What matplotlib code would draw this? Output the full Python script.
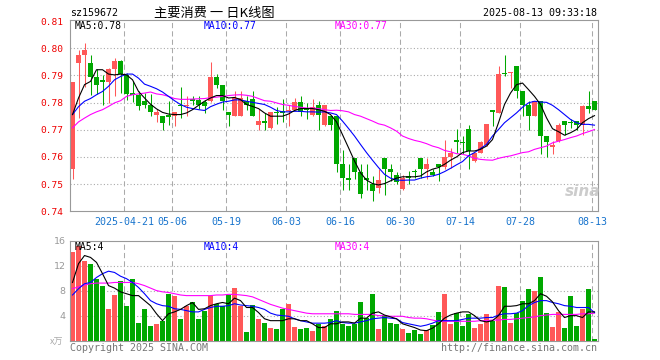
import matplotlib
matplotlib.use("Agg")
import matplotlib.pyplot as plt
import numpy as np

# daily bars, 2025-04-08 .. 2025-08-13 (88 trading days)
opens = [0.7555, 0.7946, 0.7977, 0.7946, 0.7895, 0.7884, 0.7874, 0.7924, 0.7954, 0.7902,
         0.7835, 0.7829, 0.7805, 0.7793, 0.7754, 0.7752, 0.7754, 0.7752, 0.7793, 0.7786,
         0.7812, 0.7811, 0.7802, 0.7805, 0.7895, 0.7866, 0.7764, 0.7752, 0.7752, 0.7805,
         0.7813, 0.7717, 0.7734, 0.7705, 0.7764, 0.7769, 0.7769, 0.7773, 0.7803, 0.7780,
         0.7754, 0.7793, 0.7716, 0.7752, 0.7750, 0.7573, 0.7522, 0.7597, 0.7545, 0.7522,
         0.7500, 0.7484, 0.7595, 0.7555, 0.7534, 0.7481, 0.7530, 0.7546, 0.7595, 0.7555,
         0.7545, 0.7573, 0.7563, 0.7601, 0.7662, 0.7653, 0.7703, 0.7585, 0.7616, 0.7644,
         0.7774, 0.7762, 0.7906, 0.7908, 0.7935, 0.7844, 0.7793, 0.7752, 0.7805, 0.7677,
         0.7636, 0.7658, 0.7734, 0.7727, 0.7734, 0.7717, 0.7786, 0.7805]
closes = [0.7874, 0.7976, 0.7994, 0.7896, 0.7866, 0.7874, 0.7924, 0.7954, 0.7905, 0.7833,
          0.7829, 0.7786, 0.7793, 0.7765, 0.7764, 0.7725, 0.7748, 0.7764, 0.7786, 0.7793,
          0.7805, 0.7793, 0.7788, 0.7895, 0.7866, 0.7805, 0.7754, 0.7817, 0.7817, 0.7793,
          0.7752, 0.7734, 0.7724, 0.7764, 0.7760, 0.7762, 0.7774, 0.7803, 0.7766, 0.7774,
          0.7785, 0.7754, 0.7793, 0.7717, 0.7573, 0.7522, 0.7514, 0.7545, 0.7463, 0.7514,
          0.7476, 0.7516, 0.7555, 0.7545, 0.7506, 0.7524, 0.7522, 0.7544, 0.7555, 0.7573,
          0.7534, 0.7563, 0.7601, 0.7616, 0.7655, 0.7651, 0.7622, 0.7613, 0.7655, 0.7723,
          0.7764, 0.7905, 0.7904, 0.7913, 0.7844, 0.7793, 0.7752, 0.7805, 0.7677, 0.7655,
          0.7643, 0.7717, 0.7717, 0.7724, 0.7717, 0.7786, 0.7778, 0.7774]
highs = [0.7875, 0.7994, 0.8018, 0.7976, 0.7923, 0.7902, 0.7927, 0.7963, 0.7955, 0.7908,
         0.7878, 0.7841, 0.7835, 0.7832, 0.7778, 0.7752, 0.7805, 0.7764, 0.7856, 0.7823,
         0.7825, 0.7825, 0.7811, 0.7948, 0.7905, 0.7866, 0.7764, 0.7844, 0.7844, 0.7825,
         0.7844, 0.7778, 0.7762, 0.7764, 0.7784, 0.7813, 0.7793, 0.7817, 0.7825, 0.7799,
         0.7813, 0.7805, 0.7793, 0.7752, 0.7750, 0.7624, 0.7573, 0.7597, 0.7573, 0.7573,
         0.7530, 0.7555, 0.7595, 0.7573, 0.7545, 0.7534, 0.7549, 0.7555, 0.7595, 0.7595,
         0.7555, 0.7573, 0.7662, 0.7634, 0.7703, 0.7677, 0.7717, 0.7613, 0.7658, 0.7723,
         0.7774, 0.7935, 0.7976, 0.7913, 0.7935, 0.7844, 0.7805, 0.7805, 0.7805, 0.7677,
         0.7658, 0.7725, 0.7734, 0.7738, 0.7734, 0.7793, 0.7844, 0.7805]
lows = [0.7518, 0.7743, 0.7859, 0.7829, 0.7832, 0.7790, 0.7799, 0.7823, 0.7835, 0.7811,
        0.7802, 0.7771, 0.7780, 0.7750, 0.7729, 0.7701, 0.7719, 0.7713, 0.7744, 0.7750,
        0.7790, 0.7778, 0.7761, 0.7804, 0.7853, 0.7771, 0.7713, 0.7750, 0.7750, 0.7774,
        0.7750, 0.7701, 0.7701, 0.7704, 0.7722, 0.7729, 0.7713, 0.7773, 0.7750, 0.7741,
        0.7752, 0.7701, 0.7713, 0.7701, 0.7543, 0.7479, 0.7479, 0.7518, 0.7449, 0.7479,
        0.7439, 0.7469, 0.7460, 0.7512, 0.7500, 0.7479, 0.7500, 0.7524, 0.7524, 0.7518,
        0.7530, 0.7512, 0.7555, 0.7561, 0.7613, 0.7612, 0.7555, 0.7581, 0.7613, 0.7640,
        0.7713, 0.7762, 0.7899, 0.7853, 0.7817, 0.7750, 0.7701, 0.7750, 0.7610, 0.7600,
        0.7610, 0.7655, 0.7682, 0.7707, 0.7701, 0.7682, 0.7761, 0.7774]

ma5 = [0.7756, 0.7817, 0.7866, 0.7878, 0.7921, 0.7921, 0.7905, 0.7902, 0.7905, 0.7902,
       0.7884, 0.7841, 0.7817, 0.7794, 0.7777, 0.7764, 0.7758, 0.7756, 0.7756, 0.7762,
       0.7774, 0.7790, 0.7805, 0.7817, 0.7826, 0.7826, 0.7817, 0.7819, 0.7811, 0.7793,
       0.7786, 0.7778, 0.7762, 0.7750, 0.7750, 0.7750, 0.7758, 0.7771, 0.7778, 0.7778,
       0.7778, 0.7774, 0.7768, 0.7756, 0.7729, 0.7682, 0.7634, 0.7585, 0.7542, 0.7515,
       0.7502, 0.7497, 0.7502, 0.7512, 0.7522, 0.7527, 0.7527, 0.7527, 0.7530, 0.7545,
       0.7555, 0.7561, 0.7573, 0.7588, 0.7600, 0.7616, 0.7622, 0.7622, 0.7628, 0.7640,
       0.7664, 0.7726, 0.7793, 0.7835, 0.7866, 0.7872, 0.7848, 0.7823, 0.7793, 0.7744,
       0.7704, 0.7693, 0.7680, 0.7689, 0.7701, 0.7726, 0.7741, 0.7752]
ma10 = [0.7756, 0.7785, 0.7805, 0.7815, 0.7829, 0.7841, 0.7860, 0.7884, 0.7896, 0.7905,
        0.7905, 0.7890, 0.7868, 0.7860, 0.7851, 0.7839, 0.7823, 0.7807, 0.7793, 0.7783,
        0.7778, 0.7774, 0.7771, 0.7785, 0.7794, 0.7802, 0.7805, 0.7810, 0.7810, 0.7805,
        0.7801, 0.7797, 0.7793, 0.7783, 0.7771, 0.7766, 0.7766, 0.7768, 0.7768, 0.7766,
        0.7766, 0.7765, 0.7766, 0.7762, 0.7756, 0.7732, 0.7705, 0.7677, 0.7646, 0.7616,
        0.7588, 0.7561, 0.7536, 0.7522, 0.7515, 0.7514, 0.7515, 0.7515, 0.7522, 0.7527,
        0.7530, 0.7536, 0.7546, 0.7558, 0.7571, 0.7583, 0.7604, 0.7616, 0.7631, 0.7646,
        0.7677, 0.7701, 0.7726, 0.7744, 0.7762, 0.7783, 0.7799, 0.7805, 0.7802, 0.7801,
        0.7790, 0.7774, 0.7756, 0.7738, 0.7726, 0.7720, 0.7720, 0.7717]
ma30 = [0.7707, 0.7729, 0.7743, 0.7756, 0.7766, 0.7774, 0.7786, 0.7799, 0.7807, 0.7823,
        0.7829, 0.7832, 0.7835, 0.7839, 0.7832, 0.7829, 0.7823, 0.7815, 0.7812, 0.7812,
        0.7813, 0.7814, 0.7815, 0.7818, 0.7820, 0.7823, 0.7826, 0.7828, 0.7829, 0.7827,
        0.7823, 0.7815, 0.7807, 0.7805, 0.7799, 0.7793, 0.7790, 0.7786, 0.7783, 0.7780,
        0.7780, 0.7778, 0.7774, 0.7771, 0.7772, 0.7770, 0.7766, 0.7756, 0.7750, 0.7741,
        0.7732, 0.7722, 0.7717, 0.7707, 0.7695, 0.7677, 0.7668, 0.7661, 0.7656, 0.7649,
        0.7640, 0.7634, 0.7624, 0.7619, 0.7612, 0.7610, 0.7604, 0.7595, 0.7591, 0.7589,
        0.7588, 0.7595, 0.7600, 0.7604, 0.7610, 0.7616, 0.7619, 0.7628, 0.7634, 0.7640,
        0.7652, 0.7658, 0.7664, 0.7671, 0.7677, 0.7686, 0.7693, 0.7701]

# volume, in 万
volume = [14.1, 15.2, 12.7, 12.3, 9.8, 8.8, 5.0, 7.3, 9.6, 5.6,
          9.9, 2.9, 5.0, 2.4, 2.7, 3.2, 7.4, 7.2, 3.4, 5.6,
          6.1, 3.5, 4.7, 7.2, 5.9, 5.5, 7.3, 8.4, 5.5, 1.4,
          5.7, 3.5, 2.8, 2.0, 1.9, 5.0, 5.8, 2.2, 1.9, 2.1,
          1.5, 2.7, 2.4, 3.5, 4.8, 2.6, 2.4, 2.6, 6.1, 3.6,
          7.5, 1.9, 4.1, 2.9, 2.6, 1.9, 1.3, 1.7, 1.0, 1.7,
          2.5, 4.6, 7.5, 2.6, 4.5, 2.3, 4.3, 2.1, 2.7, 4.2,
          3.2, 8.8, 8.5, 2.9, 4.5, 6.4, 8.2, 8.0, 10.1, 4.5,
          2.2, 4.6, 2.1, 7.2, 2.4, 5.0, 8.3, 0.3]
vol_ma5 = [9.3, 12.3, 13.6, 13.3, 12.5, 10.7, 8.8, 8.4, 7.8, 7.5,
           7.2, 7.2, 6.4, 5.6, 4.3, 3.2, 4.3, 4.6, 5.0, 5.6,
           6.1, 5.0, 5.1, 5.6, 5.9, 6.1, 5.9, 6.8, 6.4, 5.3,
           5.3, 4.5, 3.5, 3.2, 3.2, 3.2, 3.5, 3.5, 3.2, 3.2,
           2.7, 2.1, 2.1, 2.7, 2.7, 3.0, 3.0, 2.8, 3.6, 3.6,
           4.4, 4.6, 4.1, 3.8, 3.5, 2.7, 2.4, 2.1, 1.7, 1.6,
           2.0, 2.7, 3.6, 4.1, 4.4, 4.6, 4.6, 4.0, 3.2, 3.0,
           3.2, 4.0, 5.5, 5.5, 5.6, 5.9, 5.9, 6.4, 7.5, 7.1,
           6.2, 4.8, 3.7, 4.0, 4.0, 3.7, 4.6, 4.6]
vol_ma10 = [7.3, 8.3, 9.1, 9.3, 10.1, 10.7, 11.1, 10.9, 10.3, 9.9,
            9.3, 8.5, 7.5, 6.4, 5.9, 5.6, 5.5, 5.1, 5.0, 4.8,
            4.6, 4.6, 5.0, 5.3, 5.5, 5.5, 5.6, 5.9, 5.7, 5.6,
            5.5, 5.3, 5.0, 4.4, 4.1, 4.0, 3.9, 3.5, 3.2, 3.0,
            2.8, 2.8, 2.8, 2.9, 3.2, 2.9, 2.8, 2.8, 3.0, 3.2,
            3.5, 3.6, 3.7, 3.6, 3.5, 2.9, 2.7, 2.5, 2.3, 2.5,
            2.8, 3.2, 3.2, 3.2, 3.2, 3.4, 3.6, 3.6, 3.6, 3.7,
            3.7, 4.1, 4.3, 4.3, 4.4, 4.8, 5.6, 6.1, 6.4, 6.4,
            6.1, 5.9, 5.6, 5.5, 5.3, 5.3, 5.3, 4.5]
vol_ma30 = [8.3, 8.6, 8.9, 9.1, 9.2, 9.2, 9.2, 9.3, 9.3, 9.3,
            9.3, 9.1, 8.8, 8.4, 8.0, 7.8, 7.7, 7.5, 7.3, 7.2,
            7.2, 7.2, 7.2, 7.2, 7.3, 7.3, 7.4, 7.4, 7.3, 7.2,
            7.0, 6.6, 6.2, 5.8, 5.5, 5.2, 5.0, 4.8, 4.6, 4.4,
            4.3, 4.3, 4.3, 4.3, 4.3, 4.3, 4.3, 4.2, 4.2, 4.2,
            4.2, 4.0, 4.0, 3.9, 3.9, 3.9, 3.7, 3.6, 3.6, 3.5,
            3.3, 3.1, 3.1, 3.1, 3.1, 3.1, 3.1, 3.1, 3.2, 3.2,
            3.3, 3.3, 3.4, 3.4, 3.5, 3.6, 3.7, 3.8, 4.0, 4.1,
            4.2, 4.2, 4.2, 4.2, 4.2, 4.3, 4.3, 4.4]

date_idx = [9, 17, 26, 36, 45, 55, 65, 75, 87]
date_labels = ["2025-04-21", "05-06", "05-19", "06-03", "06-16", "06-30", "07-14", "07-28", "08-13"]
price_ticks = [0.74, 0.75, 0.76, 0.77, 0.78, 0.79, 0.80, 0.81]
vol_ticks = [4, 8, 12, 16]

RED = "#ff5858"
GREEN = "#00a800"
GRID = "#aaaaaa"
MONO = "DejaVu Sans Mono"
CJK = ["Noto Sans CJK SC", "DejaVu Sans"]

W, H = 660, 360
fig = plt.figure(figsize=(W / 100, H / 100), dpi=100)


def fx(x):
    return x / W


def fy(y):
    return 1 - y / H


L, R = 70, 597.5
ax = fig.add_axes([fx(L), fy(211.3), (R - L) / W, (211.3 - 20) / H])
axv = fig.add_axes([fx(L), fy(340.7), (R - L) / W, (340.7 - 240.5) / H])

x = np.arange(len(closes))
o = np.array(opens)
c = np.array(closes)
colors = np.where(c >= o, RED, GREEN)

# price panel
ax.vlines(x, lows, highs, colors=colors, lw=0.75)
ax.bar(x, np.maximum(np.abs(c - o), 0.00035), 0.82, bottom=np.minimum(o, c),
       color=colors, linewidth=0)
ax.plot(x, ma30, color="#ff00ff", lw=0.8)
ax.plot(x, ma10, color="#0000ff", lw=0.8)
ax.plot(x, ma5, color="black", lw=0.8)

# volume panel
axv.bar(x, volume, 0.82, color=colors, linewidth=0)
axv.plot(x, vol_ma30, color="#ff00ff", lw=0.8)
axv.plot(x, vol_ma10, color="#0000ff", lw=0.8)
axv.plot(x, vol_ma5, color="black", lw=0.8)

for a in (ax, axv):
    a.set_xlim(-0.42, 87.5)
    for d in date_idx:
        a.axvline(d - 0.35, color=GRID, lw=0.75, ls=(0, (5, 3)), zorder=0)
    for s in a.spines.values():
        s.set_color("#999999")
        s.set_linewidth(0.8)
    a.tick_params(length=0)

ax.set_ylim(0.74, 0.8104)
for t in price_ticks[1:-1]:
    ax.axhline(t, color=GRID, lw=0.8, ls=(0, (1, 2)), zorder=0)
ax.set_yticks(price_ticks)
ax.set_yticklabels([f"{t:.2f}" for t in price_ticks], color="#ee0000",
                   family=MONO, fontsize=6.8)
ax.tick_params(axis="y", pad=5)
ax.set_xticks([d - 0.35 for d in date_idx])
ax.set_xticklabels(date_labels, color="#1874cd", family=MONO, fontsize=7.2)
ax.tick_params(axis="x", pad=4)

axv.set_ylim(0, 16)
for t in vol_ticks[:-1]:
    axv.axhline(t, color=GRID, lw=0.8, ls=(0, (1, 2)), zorder=0)
axv.set_yticks(vol_ticks)
axv.set_yticklabels([str(t) for t in vol_ticks], color="#999999", fontsize=6.8)
axv.tick_params(axis="y", pad=3)
axv.set_xticks([])

# texts
fig.text(fx(70), fy(13), "sz159672", family=MONO, fontsize=7.2, va="center")
fig.text(fx(214), fy(13), "主要消费 一 日K线图", family=CJK, fontsize=9.5,
         va="center", ha="center")
fig.text(fx(597), fy(13), "2025-08-13 09:33:18", family=MONO, fontsize=7.2,
         va="center", ha="right")

fig.text(fx(75), fy(26), "MA5:0.78", family=MONO, fontsize=7, color="black", va="center")
fig.text(fx(204), fy(26), "MA10:0.77", family=MONO, fontsize=7, color="#0000ff", va="center")
fig.text(fx(335), fy(26), "MA30:0.77", family=MONO, fontsize=7, color="#ff00ff", va="center")

fig.text(fx(75), fy(247), "MA5:4", family=MONO, fontsize=7, color="black", va="center")
fig.text(fx(204), fy(247), "MA10:4", family=MONO, fontsize=7, color="#0000ff", va="center")
fig.text(fx(335), fy(247), "MA30:4", family=MONO, fontsize=7, color="#ff00ff", va="center")

fig.text(fx(63), fy(342), "x万", family=CJK, fontsize=6.5, color="#aaaaaa",
         va="center", ha="right", style="italic")
fig.text(fx(70), fy(348), "Copyright 2025 SINA.COM", family=MONO, fontsize=7.2,
         color="#777777", va="center")
fig.text(fx(597), fy(348), "http://finance.sina.com.cn", family=MONO, fontsize=7.2,
         color="#777777", va="center", ha="right")

# watermark
fig.text(fx(583), fy(192), "sina", fontsize=11, fontweight="bold", style="italic",
         color="#cccccc", ha="center", va="center")

fig.savefig("out.png", dpi=100)
